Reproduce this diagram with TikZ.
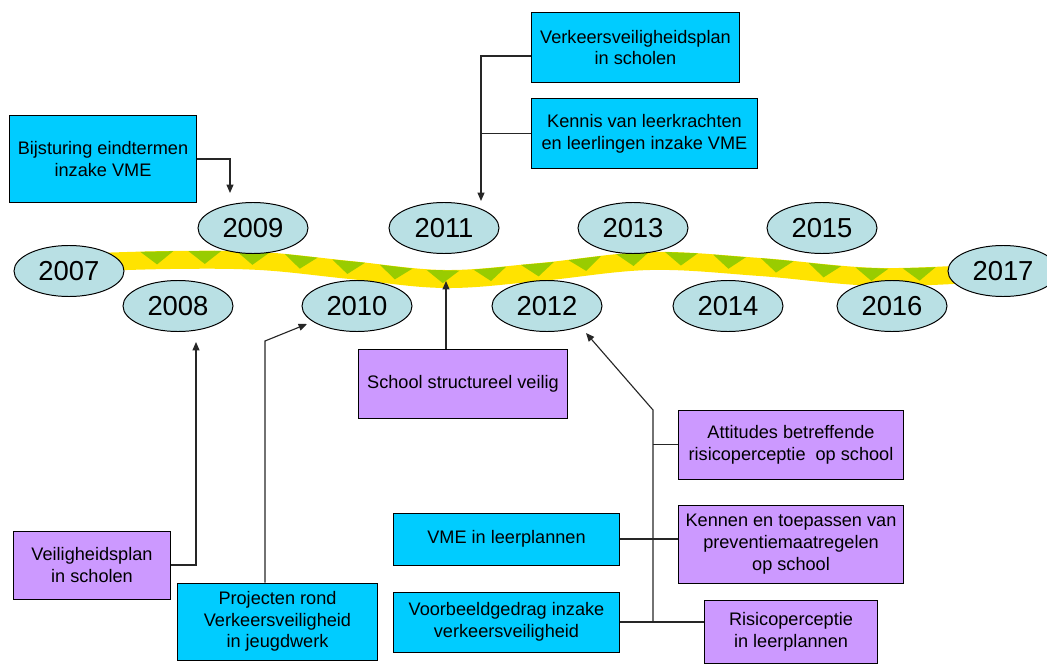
\documentclass[tikz,border=0pt]{standalone}
\usepackage{fontspec}
\setmainfont{Liberation Sans}
\usepackage{xcolor}
\usetikzlibrary{arrows.meta,shapes.geometric,decorations.markings}
\definecolor{vakblauw}{HTML}{00CCFF}
\definecolor{vaklila}{HTML}{CC99FF}
\definecolor{jaarkleur}{HTML}{B9E0E4}
\definecolor{bandgeel}{HTML}{FFE300}
\definecolor{bandgroen}{HTML}{99CC00}

\begin{document}
\begin{tikzpicture}[x=0.025cm,y=-0.025cm,
  jaar/.style={ellipse,draw,fill=jaarkleur,line width=0.7pt,minimum width=2.75cm,
    minimum height=1.275cm,inner sep=0pt,font=\fontsize{19.5}{22}\selectfont},
  vak/.style={rectangle,draw,line width=0.7pt,align=center,inner sep=2pt,
    font=\fontsize{12.9}{15.4}\selectfont},
  blauw/.style={vak,fill=vakblauw},
  lila/.style={vak,fill=vaklila},
  lijn/.style={draw=black!85,line width=0.8pt},
  pijl/.style={lijn,-{Triangle[length=6pt,width=5pt]}}]
  \useasboundingbox (0,0) rectangle (1047,664);
  % tijdlijn
  \draw[bandgeel,line width=12.8pt,
    postaction={decorate,decoration={markings,
      mark=between positions 62.6pt and 620pt step 34pt with
      {\fill[bandgroen] (-11.7pt,6.2pt) -- (11.7pt,6.2pt) -- (0pt,-3pt) -- cycle;}}}]
    plot[smooth,tension=0.6] coordinates {(69,263) (170,260) (260,261) (350,270)
      (445,279) (540,272) (650,261) (760,267) (880,277) (1003,272)};
  \foreach \j/\x/\y in {2007/69/271,2008/178/306,2009/253/228,2010/357/306,
    2011/444/228,2012/547/306,2013/633/228,2014/728/306,2015/822/228,
    2016/892/306,2017/1003/271}
    \node[jaar] (j\j) at (\x,\y) {\j};
  % vakken
  \node[blauw,minimum width=4.65cm,minimum height=2.15cm] (bijsturing) at (103,159)
    {Bijsturing eindtermen\\inzake VME};
  \node[blauw,minimum width=5.175cm,minimum height=1.725cm] (vvplan) at (635.5,47.5)
    {Verkeersveiligheidsplan\\in scholen};
  \node[blauw,minimum width=5.625cm,minimum height=1.725cm] (kennis) at (644.5,133.5)
    {Kennis van leerkrachten\\en leerlingen inzake VME};
  \node[lila,minimum width=3.9cm,minimum height=1.7cm] (vplan) at (92,565)
    {Veiligheidsplan\\in scholen};
  \node[blauw,minimum width=4.975cm,minimum height=1.925cm] (projecten) at (277.5,621.5)
    {Projecten rond\\Verkeersveiligheid\\in jeugdwerk};
  \node[lila,minimum width=5.2cm,minimum height=1.725cm] (school) at (463,383.5)
    {School structureel veilig};
  \node[blauw,minimum width=5.625cm,minimum height=1.3cm] (vme) at (506.5,539)
    {VME in leerplannen};
  \node[blauw,minimum width=5.625cm,minimum height=1.5cm] (voorbeeld) at (506.5,622)
    {Voorbeeldgedrag inzake\\verkeersveiligheid};
  \node[lila,minimum width=5.6cm,minimum height=1.725cm] (attitudes) at (791,444.5)
    {Attitudes betreffende\\risicoperceptie\ \ op school};
  \node[lila,minimum width=5.6cm,minimum height=1.95cm] (kennen) at (791,544)
    {Kennen en toepassen van\\preventiemaatregelen\\op school};
  \node[lila,minimum width=4.3cm,minimum height=1.575cm] (risico) at (791,631.5)
    {Risicoperceptie\\in leerplannen};
  % verbindingen
  \coordinate (p2009) at (230,193);
  \coordinate (p2011) at (481,201);
  \coordinate (p2008) at (196,342);
  \coordinate (knik2010) at (265,341);
  \coordinate (p2010) at (307,324);
  \coordinate (pband) at (446,281);
  \coordinate (stam) at (653,410);
  \coordinate (p2012) at (586,333);
  \draw[pijl] (bijsturing) -| (p2009);
  \draw[pijl] ([yshift=-6pt]vvplan.west) -| (p2011);
  \draw[lijn] (kennis.west) -- (kennis.west -| p2011);
  \draw[pijl] (vplan) -| (p2008);
  \draw[pijl] (projecten.north -| knik2010) -- (knik2010) -- (p2010);
  \draw[pijl] (school.north -| pband) -- (pband);
  \draw[lijn] (vme) -- (vme -| kennen.west);
  \draw[lijn] (voorbeeld) -- (voorbeeld -| risico.west);
  \draw[pijl] (voorbeeld.east -| stam) -- (stam) -- (p2012);
  \draw[lijn] (attitudes.west) -- (attitudes.west -| stam);
\end{tikzpicture}
\end{document}
